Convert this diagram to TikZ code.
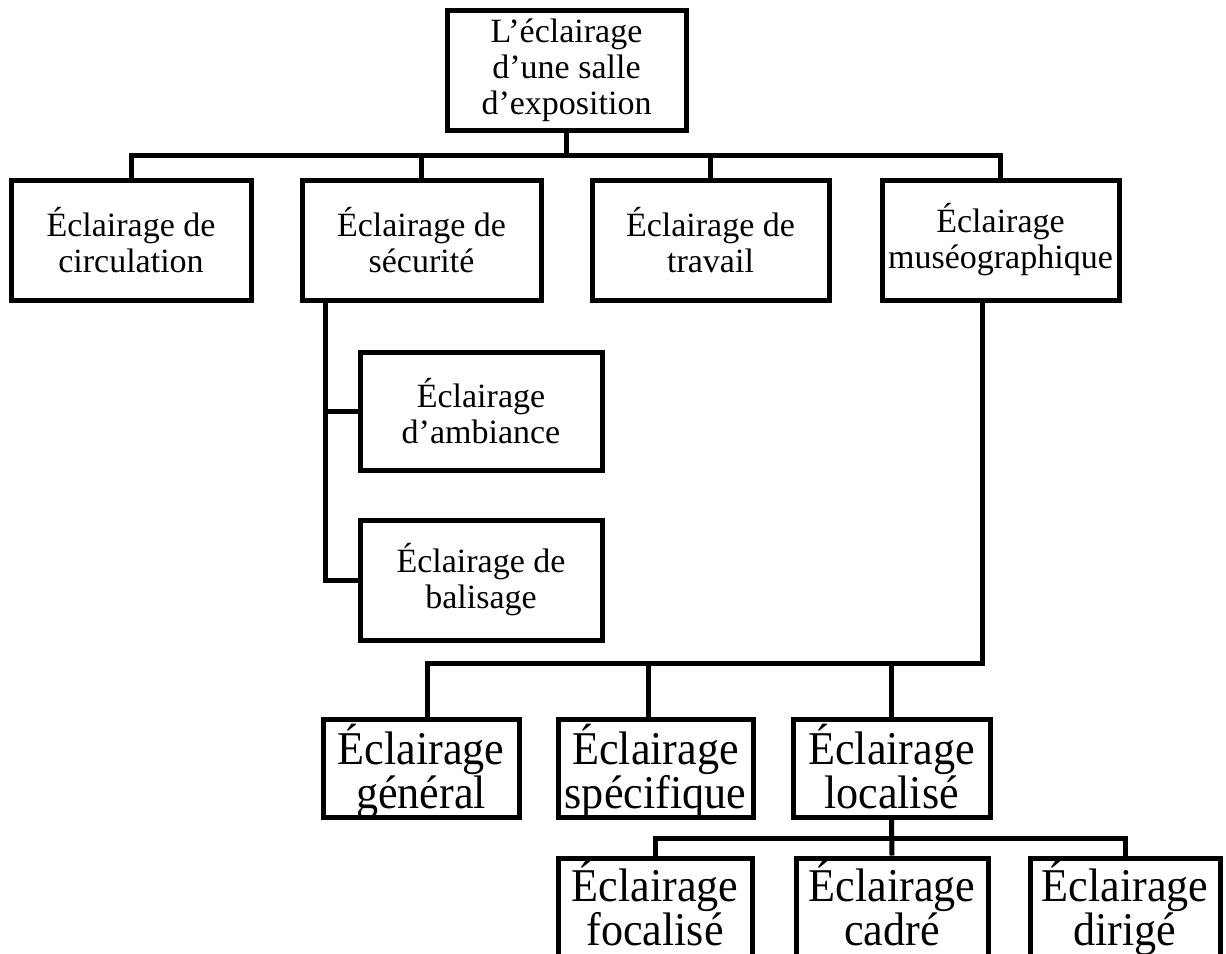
\documentclass[tikz,border=0pt]{standalone}
\usepackage{fontspec}
\setmainfont{Liberation Serif}
\newfontfamily\tallfont[FakeStretch=0.94]{Liberation Serif}
\newcommand\mybigfont{\tallfont\fontsize{47}{40}\selectfont\lineskiplimit-100pt\relax}
\begin{document}
\begin{tikzpicture}[x=1pt,y=-1pt,
  box/.style={draw, line width=5pt, align=center, inner sep=0pt, font=\fontsize{34}{36}\selectfont},
  frame/.style={draw, line width=5pt, inner sep=0pt},
  bigtext/.style={align=center, inner sep=0pt, anchor=north, font=\mybigfont},
  link/.style={line width=5pt}]
\useasboundingbox (0,0) rectangle (1226,953);
\clip (0,0) rectangle (1226,953);
\fill[white] (0,0) rectangle (1226,953);
% nodes
\node[box, minimum width=239pt, minimum height=120pt] (top) at (566.5,70) {L’éclairage\\d’une salle\\d’exposition};
\node[box, minimum width=240pt, minimum height=120pt] (c1) at (131,240) {Éclairage de\\circulation};
\node[box, minimum width=239pt, minimum height=120pt] (c2) at (421.5,240) {Éclairage de\\sécurité};
\node[box, minimum width=237pt, minimum height=120pt] (c3) at (710.5,240) {Éclairage de\\travail};
\node[box, minimum width=237pt, minimum height=120pt] (c4) at (1000.5,240) {Éclairage\\muséographique};
\node[box, minimum width=242pt, minimum height=118pt] (amb) at (481,411) {Éclairage\\d’ambiance};
\node[box, minimum width=242pt, minimum height=120pt] (bal) at (481,580) {Éclairage de\\balisage};
% third row
\node[frame, minimum width=196pt, minimum height=98pt] (gen) at (421,768) {};
\node[frame, minimum width=195pt, minimum height=98pt] (spe) at (655.5,768) {};
\node[frame, minimum width=197pt, minimum height=98pt] (loc) at (891.5,768) {};
\node[bigtext] (gent) at (421,724) {Éclairage\\[4pt]général};
\node[bigtext] (spet) at (655.5,724) {Éclairage\\[4pt]spécifique};
\node[bigtext] (loct) at (891.5,724) {Éclairage\\[4pt]localisé};
% fourth row
\node[frame, minimum width=194pt, minimum height=100pt] (foc) at (655,908) {};
\node[frame, minimum width=192pt, minimum height=100pt] (cad) at (892,908) {};
\node[frame, minimum width=190pt, minimum height=100pt] (dir) at (1125,908) {};
\node[bigtext] (foct) at (655,861) {Éclairage\\[4pt]focalisé};
\node[bigtext] (cadt) at (892,861) {Éclairage\\[4pt]cadré};
\node[bigtext] (dirt) at (1125,861) {Éclairage\\[4pt]dirigé};
% level 1
\coordinate (bus1) at (566.5,155);
\draw[link] (top.south) -- (bus1);
\draw[link] (c1.north) |- (bus1) -| (c4.north);
\draw[link] (c2.north) -- (c2.north |- bus1);
\draw[link] (c3.north) -- (c3.north |- bus1);
% securite
\coordinate (sv) at (325,300);
\draw[link] (sv) |- (bal.west);
\draw[link] (amb.west) -- (amb.west -| sv);
% museographique
\coordinate (mv) at (982,663);
\coordinate (g1) at (427,663);
\coordinate (g2) at (648,663);
\draw[link] (c4.south -| mv) -- (mv) -- (g1) -- (g1 |- gen.north);
\draw[link] (g2) -- (g2 |- spe.north);
\draw[link] (loc.north) -- (loc.north |- mv);
% localise
\coordinate (lv) at (892,838);
\draw[link] (loc.south) -- (cad.north);
\draw[link] (foc.north) |- (lv) -| (dir.north);
\end{tikzpicture}
\end{document}
